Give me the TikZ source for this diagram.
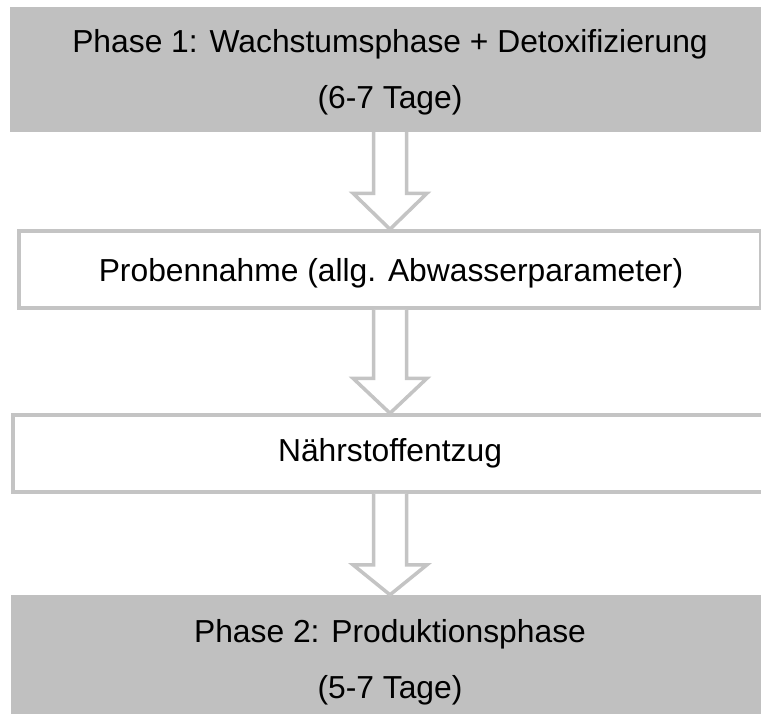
\documentclass[tikz,border=0pt]{standalone}
\usepackage{fontspec}
\setmainfont{Liberation Sans}
\usetikzlibrary{calc}
\definecolor{phasegray}{RGB}{192,192,192}
\definecolor{linegray}{RGB}{196,196,196}
\tikzset{
  phasebox/.style={rectangle, fill=phasegray, draw=none, inner sep=0pt},
  stepbox/.style={rectangle, fill=white, draw=linegray, line width=3.5pt, inner sep=0pt},
  label/.style={anchor=base, inner sep=0pt, font=\fontsize{31.8}{38}\selectfont, text=black},
  flowarrow/.style={draw=linegray, fill=white, line width=3.5pt, line join=miter}
}
\newcommand\flowarrow[3]{%
  \draw[flowarrow] let \p1=(#1.south), \p2=(#2.north) in
    (\x1-16.5pt,\y1) -- (\x1-16.5pt,\y2+#3pt) -- (\x1-37pt,\y2+#3pt) -- (\x2,\y2)
    -- (\x1+37pt,\y2+#3pt) -- (\x1+16.5pt,\y2+#3pt) -- (\x1+16.5pt,\y1);}
\begin{document}
\begin{tikzpicture}[x=1pt,y=-1pt]
  \useasboundingbox (0,0) rectangle (761,713);
  \clip (0,0) rectangle (761,713);
  \fill[white] (0,0) rectangle (761,713);
  % boxes
  \node[phasebox, minimum width=760pt, minimum height=125pt] (b1) at (390,69.5) {};
  \node[stepbox, minimum width=742pt, minimum height=77pt] (b2) at (390,269.5) {};
  \node[stepbox, minimum width=754pt, minimum height=77pt] (b3) at (390,453.5) {};
  \node[phasebox, minimum width=758pt, minimum height=130pt] (b4) at (390,660) {};
  % texts
  \node[label] (t1a) at (390,52) {Phase 1: Wachstumsphase + Detoxifizierung};
  \node[label] (t1b) at (390,108) {(6-7 Tage)};
  \node[label] (t2) at (391,281) {Probennahme (allg. Abwasserparameter)};
  \node[label] (t3) at (390,461) {Nährstoffentzug};
  \node[label] (t4a) at (390,642) {Phase 2: Produktionsphase};
  \node[label] (t4b) at (390,698) {(5-7 Tage)};
  % arrows
  \flowarrow{b1}{b2}{36}
  \flowarrow{b2}{b3}{35}
  \flowarrow{b3}{b4}{30}
\end{tikzpicture}
\end{document}
